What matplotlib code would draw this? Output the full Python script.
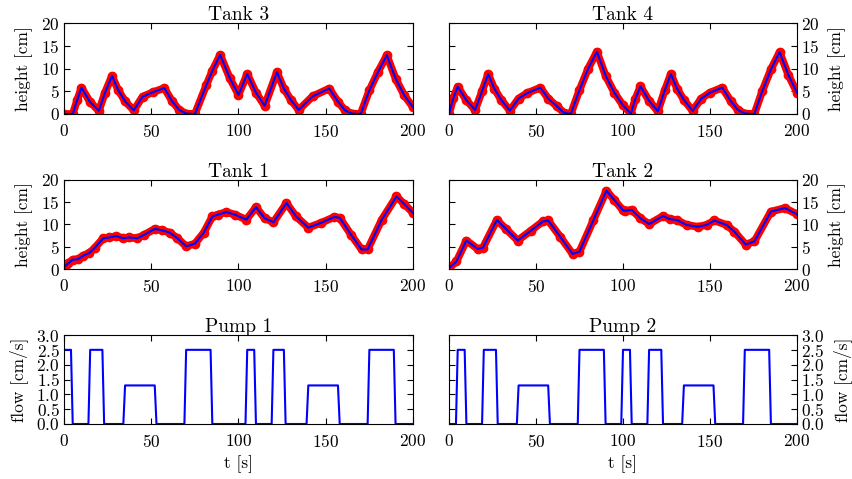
import matplotlib
matplotlib.use("Agg")
import matplotlib.pyplot as plt

plt.rcParams['font.family'] = 'serif'
plt.rcParams['font.serif'] = ['cmr10', 'DejaVu Serif']
plt.rcParams['mathtext.fontset'] = 'cm'
plt.rcParams['axes.formatter.use_mathtext'] = True

# tank levels (t in s, h in cm)
t1 = [0, 1, 2.5, 5, 8, 11, 14.5, 17.5, 22.5, 26, 30, 34, 37, 42, 46, 52, 56, 60.5, 65, 70, 75, 80, 85, 88,
      93, 98, 104.5, 110, 115, 120, 127.5, 133, 140, 147.5, 155, 158, 164.5, 170.5, 174, 182, 190.5, 195, 200]
h1 = [0.3, 0.8, 1.3, 2.1, 2.2, 3.0, 3.6, 4.7, 6.9, 7.1, 7.4, 6.9, 7.1, 6.9, 7.7, 9.0, 8.7, 8.2, 6.9, 5.1, 5.7,
      8.1, 11.8, 12.2, 12.8, 12.2, 11.1, 13.9, 11.4, 10.5, 14.8, 11.8, 9.3, 10.4, 11.7, 11.5, 7.7, 4.4, 4.4,
      11.0, 16.3, 14.6, 12.6]

t2 = [0, 4.3, 10, 16.5, 19.5, 27.5, 33, 39.5, 47, 54, 57, 64, 71, 75, 83, 90.5, 95, 100, 101, 105, 110, 115,
      123, 127, 131, 136.5, 143, 148, 152.5, 159.5, 164, 170.5, 175.5, 185, 193, 200]
h2 = [0.2, 1.7, 6.4, 4.5, 4.8, 11.0, 8.9, 6.4, 8.6, 10.7, 10.9, 7.2, 3.4, 3.9, 11.0, 17.6, 15.5, 13.2, 13.1,
      13.3, 11.4, 10.1, 11.9, 11.2, 11.0, 9.9, 9.5, 9.9, 10.9, 9.9, 8.4, 5.5, 6.2, 12.9, 13.7, 12.3]

t3 = [0, 5, 7.5, 10, 15, 20, 23.5, 27.5, 31, 35, 40, 45, 51, 57.5, 62, 66, 70, 75, 81.5, 85, 89.5, 95, 100,
      105, 110, 115, 122, 126, 130, 134.5, 142.5, 152, 157, 161, 165, 170, 175, 180, 185, 190, 195, 200]
h3 = [0, 0, 3.0, 5.8, 2.6, 0.7, 4.7, 8.4, 5.3, 2.8, 0.8, 3.8, 4.8, 5.7, 2.8, 0.9, 0.1, 0, 6.3, 9.5, 13.0, 7.9,
      4.2, 8.8, 4.7, 1.8, 9.2, 5.6, 3.1, 0.9, 3.9, 5.6, 2.7, 0.8, 0.1, 0, 5.2, 9.3, 12.9, 7.8, 4.1, 1.5]

t4 = [0, 2.5, 5, 10, 15, 19, 22.5, 26, 30, 35, 40, 45, 52.5, 57, 62, 66, 70, 75, 80, 85, 90, 95, 100, 104.5,
      107, 110, 115, 120, 124, 127.5, 131, 135, 140, 145, 150, 157, 162, 166, 170, 175.5, 180, 185, 190, 195, 200]
h4 = [0, 3.5, 6.0, 3.0, 0.9, 5.0, 8.8, 5.6, 3.1, 0.75, 3.4, 4.6, 5.8, 3.4, 1.7, 0.3, 0, 5.3, 10.0, 13.7, 8.4,
      4.7, 1.9, 0.1, 3.2, 6.1, 2.9, 0.6, 5.2, 8.8, 5.6, 3.1, 0.7, 3.4, 4.7, 5.8, 2.8, 0.9, 0.1, 0, 5.0, 9.8,
      13.6, 8.6, 4.7]

# pump flows (corner points)
p1_t = [0, 4, 5, 14, 15, 22, 23, 34, 35, 52, 53, 69, 70, 84, 85, 104, 105, 109, 110, 119, 120, 126, 127,
        139, 140, 157, 158, 174, 175, 189, 190, 200]
p1_f = [2.5, 2.5, 0, 0, 2.5, 2.5, 0, 0, 1.3, 1.3, 0, 0, 2.5, 2.5, 0, 0, 2.5, 2.5, 0, 0, 2.5, 2.5, 0, 0,
        1.3, 1.3, 0, 0, 2.5, 2.5, 0, 0]
p2_t = [0, 4, 5, 9, 10, 19, 20, 27, 28, 39, 40, 57, 58, 74, 75, 89, 90, 99, 100, 104, 105, 114, 115, 122,
        123, 134, 135, 152, 153, 169, 170, 184, 185, 200]
p2_f = [0, 0, 2.5, 2.5, 0, 0, 2.5, 2.5, 0, 0, 1.3, 1.3, 0, 0, 2.5, 2.5, 0, 0, 2.5, 2.5, 0, 0, 2.5, 2.5,
        0, 0, 1.3, 1.3, 0, 0, 2.5, 2.5, 0, 0]

W, H = 853, 479
fig = plt.figure(figsize=(W / 100, H / 100), dpi=100)

cols = [(64, 413), (449, 797)]
rows = [(23, 114), (180, 269), (335, 424)]


def make_ax(r, c):
    x0, x1 = cols[c]
    y0, y1 = rows[r]
    ax = fig.add_axes([x0 / W, 1 - y1 / H, (x1 - x0) / W, (y1 - y0) / H])
    ax.tick_params(direction='in', top=True, right=True, length=4, labelsize=12.5)
    ax.tick_params(axis='x', pad=6.5)
    ax.tick_params(axis='y', pad=3)
    ax.set_xlim(0, 200)
    ax.set_xticks([0, 50, 100, 150, 200])
    if c == 1:
        ax.tick_params(labelleft=False, labelright=True)
        ax.yaxis.set_label_position('right')
    return ax


tanks = [(0, 0, "Tank 3", t3, h3), (0, 1, "Tank 4", t4, h4),
         (1, 0, "Tank 1", t1, h1), (1, 1, "Tank 2", t2, h2)]
for r, c, name, t, h in tanks:
    ax = make_ax(r, c)
    ax.plot(t, h, color='red', lw=5.5, marker='o', ms=6, mec='red', solid_capstyle='round')
    ax.plot(t, h, color='blue', lw=1.5)
    ax.set_ylim(0, 20)
    ax.set_yticks([0, 5, 10, 15, 20])
    ax.set_title(name, fontsize=14, pad=2)
    ax.set_ylabel("height [cm]", fontsize=12.5, labelpad=6)

for c, name, t, f in [(0, "Pump 1", p1_t, p1_f), (1, "Pump 2", p2_t, p2_f)]:
    ax = make_ax(2, c)
    ax.plot(t, f, color='blue', lw=1.5)
    ax.set_ylim(0, 3)
    ax.set_yticks([0, 0.5, 1.0, 1.5, 2.0, 2.5, 3.0])
    ax.set_title(name, fontsize=14, pad=2)
    ax.set_ylabel("flow [cm/s]", fontsize=12.5, labelpad=6)
    ax.set_xlabel("t [s]", fontsize=12.5)

fig.savefig("out.png", dpi=100)
